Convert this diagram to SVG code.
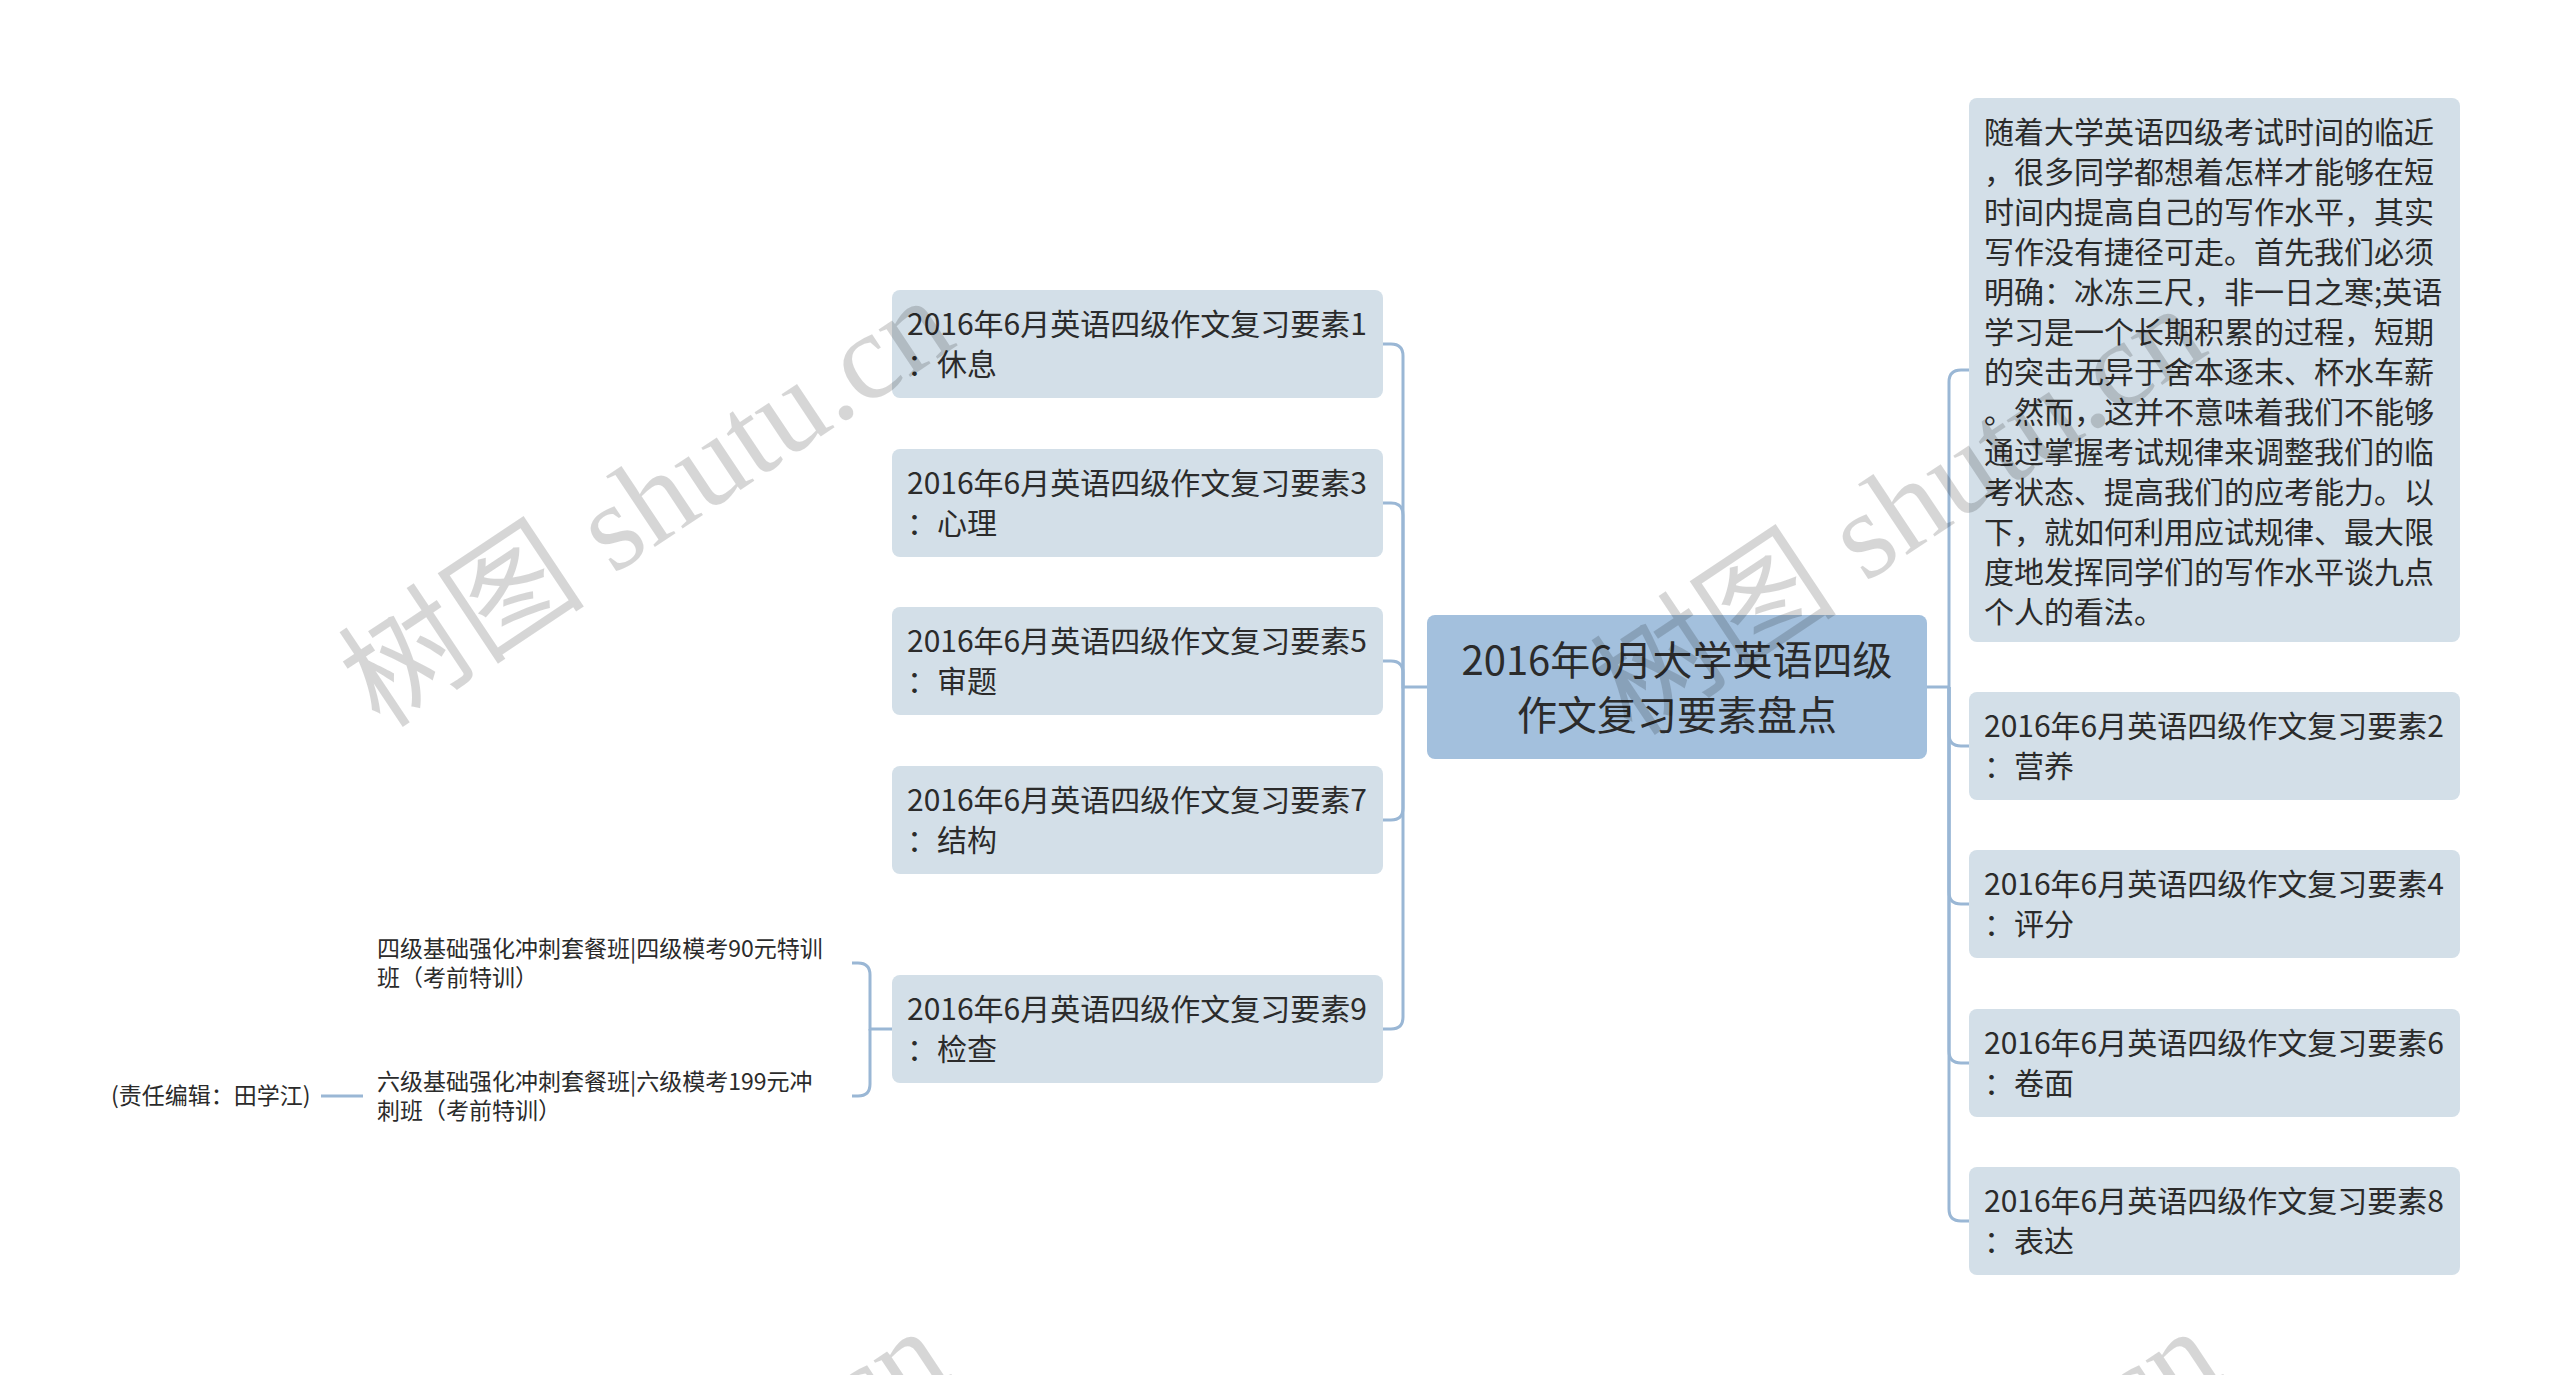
<svg xmlns="http://www.w3.org/2000/svg" width="2560" height="1375" viewBox="0 0 2560 1375">
<style>
.n{fill:#d3dfe8}
.c{fill:#a3c0dd}
.t{font-family:"Noto Sans CJK SC","Noto Sans",sans-serif;font-size:30px;fill:#2b2b2b}
.tc{font-family:"Noto Sans CJK SC","Noto Sans",sans-serif;font-size:40px;fill:#2b2b2b;text-anchor:middle}
.ts{font-family:"Noto Sans CJK SC","Noto Sans",sans-serif;font-size:23px;fill:#2b2b2b}
.l{fill:none;stroke:#9ab7d5;stroke-width:3}
.wm{font-family:"Liberation Serif","Noto Sans CJK SC",serif;font-size:124px;fill:#000;fill-opacity:0.16;text-anchor:middle}
</style>
<rect width="2560" height="1375" fill="#fff"/>
<g id="connectors">
<path class="l" d="M1427,687 H1403 V356 Q1403,344 1391,344 H1383"/>
<path class="l" d="M1403,687 V515 Q1403,503 1391,503 H1383"/>
<path class="l" d="M1403,687 V673 Q1403,661 1391,661 H1383"/>
<path class="l" d="M1403,687 V808 Q1403,820 1391,820 H1383"/>
<path class="l" d="M1403,687 V1017 Q1403,1029 1391,1029 H1383"/>
<path class="l" d="M1927,687 H1949 V382 Q1949,370 1961,370 H1969"/>
<path class="l" d="M1949,687 V734 Q1949,746 1961,746 H1969"/>
<path class="l" d="M1949,687 V892 Q1949,904 1961,904 H1969"/>
<path class="l" d="M1949,687 V1051 Q1949,1063 1961,1063 H1969"/>
<path class="l" d="M1949,687 V1209 Q1949,1221 1961,1221 H1969"/>
<path class="l" d="M892,1029 H870 V975 Q870,963 858,963 H852"/>
<path class="l" d="M870,1029 V1084 Q870,1096 858,1096 H852"/>
<path class="l" d="M321,1096 H363"/>
</g>
<g id="center">
<rect class="c" x="1427" y="615" width="500" height="144" rx="8"/>
<text class="tc" x="1677" y="675">2016年6月大学英语四级</text>
<text class="tc" x="1677" y="730">作文复习要素盘点</text>
</g>
<g id="n1">
<rect class="n" x="892" y="290" width="491" height="108" rx="8"/>
<text class="t" x="907" y="335">2016年6月英语四级作文复习要素1</text>
<text class="t" x="907" y="375">：休息</text>
</g>
<g id="n3">
<rect class="n" x="892" y="449" width="491" height="108" rx="8"/>
<text class="t" x="907" y="494">2016年6月英语四级作文复习要素3</text>
<text class="t" x="907" y="534">：心理</text>
</g>
<g id="n5">
<rect class="n" x="892" y="607" width="491" height="108" rx="8"/>
<text class="t" x="907" y="652">2016年6月英语四级作文复习要素5</text>
<text class="t" x="907" y="692">：审题</text>
</g>
<g id="n7">
<rect class="n" x="892" y="766" width="491" height="108" rx="8"/>
<text class="t" x="907" y="811">2016年6月英语四级作文复习要素7</text>
<text class="t" x="907" y="851">：结构</text>
</g>
<g id="n9">
<rect class="n" x="892" y="975" width="491" height="108" rx="8"/>
<text class="t" x="907" y="1020">2016年6月英语四级作文复习要素9</text>
<text class="t" x="907" y="1060">：检查</text>
</g>
<g id="n9a">
<text class="ts" x="377" y="957">四级基础强化冲刺套餐班|四级模考90元特训</text>
<text class="ts" x="377" y="986">班（考前特训）</text>
</g>
<g id="n9b">
<text class="ts" x="377" y="1090">六级基础强化冲刺套餐班|六级模考199元冲</text>
<text class="ts" x="377" y="1119">刺班（考前特训）</text>
</g>
<g id="n9b1">
<text class="ts" x="111" y="1104">(责任编辑：田学江)</text>
</g>
<g id="intro">
<rect class="n" x="1969" y="98" width="491" height="544" rx="8"/>
<text class="t" x="1984" y="143">随着大学英语四级考试时间的临近</text>
<text class="t" x="1984" y="183">，很多同学都想着怎样才能够在短</text>
<text class="t" x="1984" y="223">时间内提高自己的写作水平，其实</text>
<text class="t" x="1984" y="263">写作没有捷径可走。首先我们必须</text>
<text class="t" x="1984" y="303">明确：冰冻三尺，非一日之寒;英语</text>
<text class="t" x="1984" y="343">学习是一个长期积累的过程，短期</text>
<text class="t" x="1984" y="383">的突击无异于舍本逐末、杯水车薪</text>
<text class="t" x="1984" y="423">。然而，这并不意味着我们不能够</text>
<text class="t" x="1984" y="463">通过掌握考试规律来调整我们的临</text>
<text class="t" x="1984" y="503">考状态、提高我们的应考能力。以</text>
<text class="t" x="1984" y="543">下，就如何利用应试规律、最大限</text>
<text class="t" x="1984" y="583">度地发挥同学们的写作水平谈九点</text>
<text class="t" x="1984" y="623">个人的看法。</text>
</g>
<g id="n2">
<rect class="n" x="1969" y="692" width="491" height="108" rx="8"/>
<text class="t" x="1984" y="737">2016年6月英语四级作文复习要素2</text>
<text class="t" x="1984" y="777">：营养</text>
</g>
<g id="n4">
<rect class="n" x="1969" y="850" width="491" height="108" rx="8"/>
<text class="t" x="1984" y="895">2016年6月英语四级作文复习要素4</text>
<text class="t" x="1984" y="935">：评分</text>
</g>
<g id="n6">
<rect class="n" x="1969" y="1009" width="491" height="108" rx="8"/>
<text class="t" x="1984" y="1054">2016年6月英语四级作文复习要素6</text>
<text class="t" x="1984" y="1094">：卷面</text>
</g>
<g id="n8">
<rect class="n" x="1969" y="1167" width="491" height="108" rx="8"/>
<text class="t" x="1984" y="1212">2016年6月英语四级作文复习要素8</text>
<text class="t" x="1984" y="1252">：表达</text>
</g>
<g id="watermarks">
<text class="wm" transform="translate(670,537) rotate(-33.7)">树图 shutu.cn</text>
<text class="wm" transform="translate(1922,545) rotate(-33.7)">树图 shutu.cn</text>
<text class="wm" transform="translate(665,1568) rotate(-33.7)">树图 shutu.cn</text>
<text class="wm" transform="translate(1937,1568) rotate(-33.7)">树图 shutu.cn</text>
</g>
</svg>
